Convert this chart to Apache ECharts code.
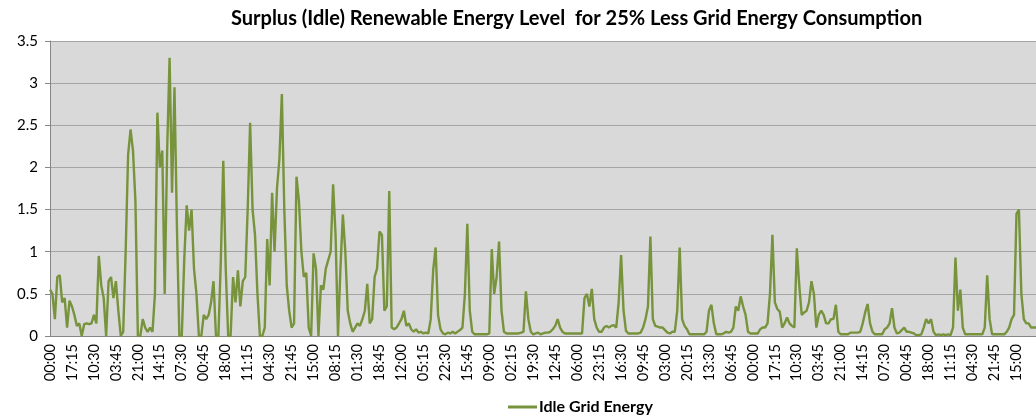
<!DOCTYPE html>
<html>
<head>
<meta charset="utf-8">
<script src="https://cdn.jsdelivr.net/npm/echarts@6/dist/echarts.min.js"></script>
<style>
  html, body { margin: 0; padding: 0; background: #fff; }
  #chart { width: 1036px; height: 419px; }
</style>
</head>
<body>
<div id="chart"></div>
<script>
// time stamps every 115 minutes, so every 9th one is a labelled tick (17:15 apart)
const startMinutes = 0;
const stepMinutes = 115;
const pointCount = 405;

const idleGridEnergy = [
  0.55, 0.5, 0.2, 0.7, 0.72, 0.4, 0.45, 0.1, 0.42, 0.35,
  0.25, 0.12, 0.15, 0.0, 0.14, 0.15, 0.14, 0.15, 0.25, 0.15,
  0.95, 0.6, 0.45, 0.0, 0.65, 0.7, 0.45, 0.65, 0.3, 0.0,
  0.05, 1.0, 2.15, 2.45, 2.2, 1.6, 0.0, 0.0, 0.2, 0.1,
  0.05, 0.1, 0.05, 0.5, 2.65, 2.0, 2.2, 0.5, 2.2, 3.3,
  1.7, 2.95, 1.3, 0.0, 0.0, 0.9, 1.55, 1.25, 1.5, 0.8,
  0.5, 0.0, 0.0, 0.25, 0.2, 0.25, 0.4, 0.65, 0.0, 0.0,
  0.9, 2.08, 0.8, 0.0, 0.0, 0.7, 0.4, 0.78, 0.35, 0.65,
  0.7, 1.5, 2.53, 1.5, 1.2, 0.5, 0.0, 0.0, 0.1, 1.15,
  0.6, 1.7, 1.0, 1.75, 2.1, 2.87, 1.5, 0.6, 0.3, 0.1,
  0.15, 1.89, 1.6, 1.0, 0.7, 0.75, 0.1, 0.0, 0.98, 0.8,
  0.0, 0.6, 0.55, 0.8, 0.9, 1.0, 1.8, 1.2, 0.0, 0.8,
  1.44, 1.0, 0.3, 0.15, 0.05, 0.1, 0.15, 0.12, 0.2, 0.3,
  0.62, 0.15, 0.2, 0.7, 0.8, 1.24, 1.2, 0.3, 0.35, 1.72,
  0.1, 0.08, 0.1, 0.15, 0.2, 0.3, 0.12, 0.15, 0.08, 0.05,
  0.08, 0.04, 0.05, 0.03, 0.04, 0.03, 0.2, 0.78, 1.05, 0.25,
  0.08, 0.03, 0.02, 0.04, 0.03, 0.05, 0.03, 0.05, 0.07, 0.1,
  0.5, 1.33, 0.3, 0.05, 0.02, 0.02, 0.02, 0.02, 0.02, 0.02,
  0.03, 1.03, 0.5, 0.7, 1.12, 0.3, 0.05, 0.03, 0.03, 0.03,
  0.03, 0.03, 0.03, 0.04, 0.05, 0.53, 0.2, 0.05, 0.02, 0.03,
  0.04, 0.02, 0.03, 0.04, 0.04, 0.05, 0.08, 0.12, 0.2, 0.1,
  0.05, 0.03, 0.03, 0.03, 0.03, 0.03, 0.03, 0.03, 0.03, 0.45,
  0.5, 0.35, 0.56, 0.2, 0.1, 0.05, 0.05, 0.1, 0.12, 0.1,
  0.12, 0.13, 0.1, 0.4, 0.96, 0.3, 0.06, 0.03, 0.03, 0.03,
  0.03, 0.03, 0.04, 0.1, 0.2, 0.35, 1.18, 0.2, 0.12, 0.11,
  0.1, 0.1, 0.07, 0.04, 0.03, 0.05, 0.05, 0.3, 1.05, 0.2,
  0.12, 0.08, 0.02, 0.02, 0.02, 0.02, 0.02, 0.02, 0.02, 0.05,
  0.3, 0.37, 0.15, 0.02, 0.02, 0.02, 0.03, 0.05, 0.04, 0.05,
  0.1, 0.35, 0.3, 0.47, 0.35, 0.25, 0.05, 0.03, 0.03, 0.03,
  0.03, 0.08, 0.1, 0.1, 0.15, 0.5, 1.2, 0.4, 0.32, 0.29,
  0.1, 0.15, 0.22, 0.15, 0.12, 0.1, 1.04, 0.6, 0.25, 0.28,
  0.3, 0.4, 0.65, 0.5, 0.1, 0.25, 0.3, 0.25, 0.15, 0.15,
  0.2, 0.2, 0.37, 0.05, 0.02, 0.02, 0.02, 0.02, 0.04, 0.04,
  0.04, 0.04, 0.05, 0.15, 0.28, 0.38, 0.15, 0.05, 0.02, 0.02,
  0.02, 0.02, 0.08, 0.1, 0.15, 0.33, 0.1, 0.03, 0.04, 0.07,
  0.1, 0.05, 0.05, 0.04, 0.03, 0.01, 0.01, 0.02, 0.1, 0.2,
  0.15, 0.2, 0.05, 0.01, 0.02, 0.01, 0.02, 0.01, 0.02, 0.01,
  0.1, 0.93, 0.3, 0.55, 0.1, 0.02, 0.02, 0.02, 0.02, 0.02,
  0.02, 0.02, 0.02, 0.1, 0.72, 0.2, 0.02, 0.02, 0.02, 0.02,
  0.02, 0.02, 0.05, 0.1, 0.2, 0.25, 1.45, 1.5, 0.5, 0.2,
  0.15, 0.15, 0.1, 0.1, 0.1
];

const yTicks = { min: 0, max: 3.5, interval: 0.5 };

const categories = [];
for (let i = 0; i < pointCount; i++) {
  const m = (startMinutes + i * stepMinutes) % 1440;
  const hh = String(Math.floor(m / 60)).padStart(2, "0");
  const mm = String(m % 60).padStart(2, "0");
  categories.push(`${hh}:${mm}`);
}

const fontFamily = "Lato, 'Open Sans', sans-serif";

const option = {
  backgroundColor: "#fff",
  animation: false,
  title: {
    text: "Surplus (Idle) Renewable Energy Level  for 25% Less Grid Energy Consumption",
    left: 226,
    top: 4,
    textStyle: {
      fontFamily,
      fontSize: 20,
      fontWeight: "bold",
      color: "#000",
    },
  },
  legend: {
    left: 503,
    top: 394,
    icon: "rect",
    itemWidth: 29,
    itemHeight: 3,
    itemGap: 4,
    textStyle: {
      fontFamily,
      fontSize: 16,
      fontWeight: "bold",
      color: "#000",
      padding: [0, 0, 0, -3],
    },
    data: ["Idle Grid Energy"],
  },
  grid: {
    left: 50,
    right: -9,
    top: 41,
    bottom: 83,
    show: true,
    backgroundColor: "#d9d9d9",
    borderWidth: 0,
    containLabel: false,
  },
  xAxis: {
    type: "category",
    data: categories,
    boundaryGap: false,
    axisLine: { lineStyle: { color: "#868686", width: 1 } },
    axisTick: { show: false },
    axisLabel: {
      interval: 8,
      rotate: 90,
      fontFamily,
      fontSize: 14.5,
      color: "#000",
      margin: 8,
    },
    splitLine: { show: false },
  },
  yAxis: {
    type: "value",
    min: yTicks.min,
    max: yTicks.max,
    interval: yTicks.interval,
    axisLine: { show: true, lineStyle: { color: "#868686", width: 1 } },
    axisTick: { show: true, length: 5, lineStyle: { color: "#868686" } },
    axisLabel: {
      fontFamily,
      fontSize: 15,
      color: "#000",
      margin: 12,
    },
    splitLine: { lineStyle: { color: "#a5a5a5", width: 1 } },
  },
  series: [
    {
      name: "Idle Grid Energy",
      type: "line",
      data: idleGridEnergy,
      symbol: "none",
      color: "#77933c",
      lineStyle: { color: "#77933c", width: 2.4 },
    },
  ],
};

const chart = echarts.init(document.getElementById("chart"), null, { renderer: "canvas" });
chart.setOption(option);
</script>
</body>
</html>
